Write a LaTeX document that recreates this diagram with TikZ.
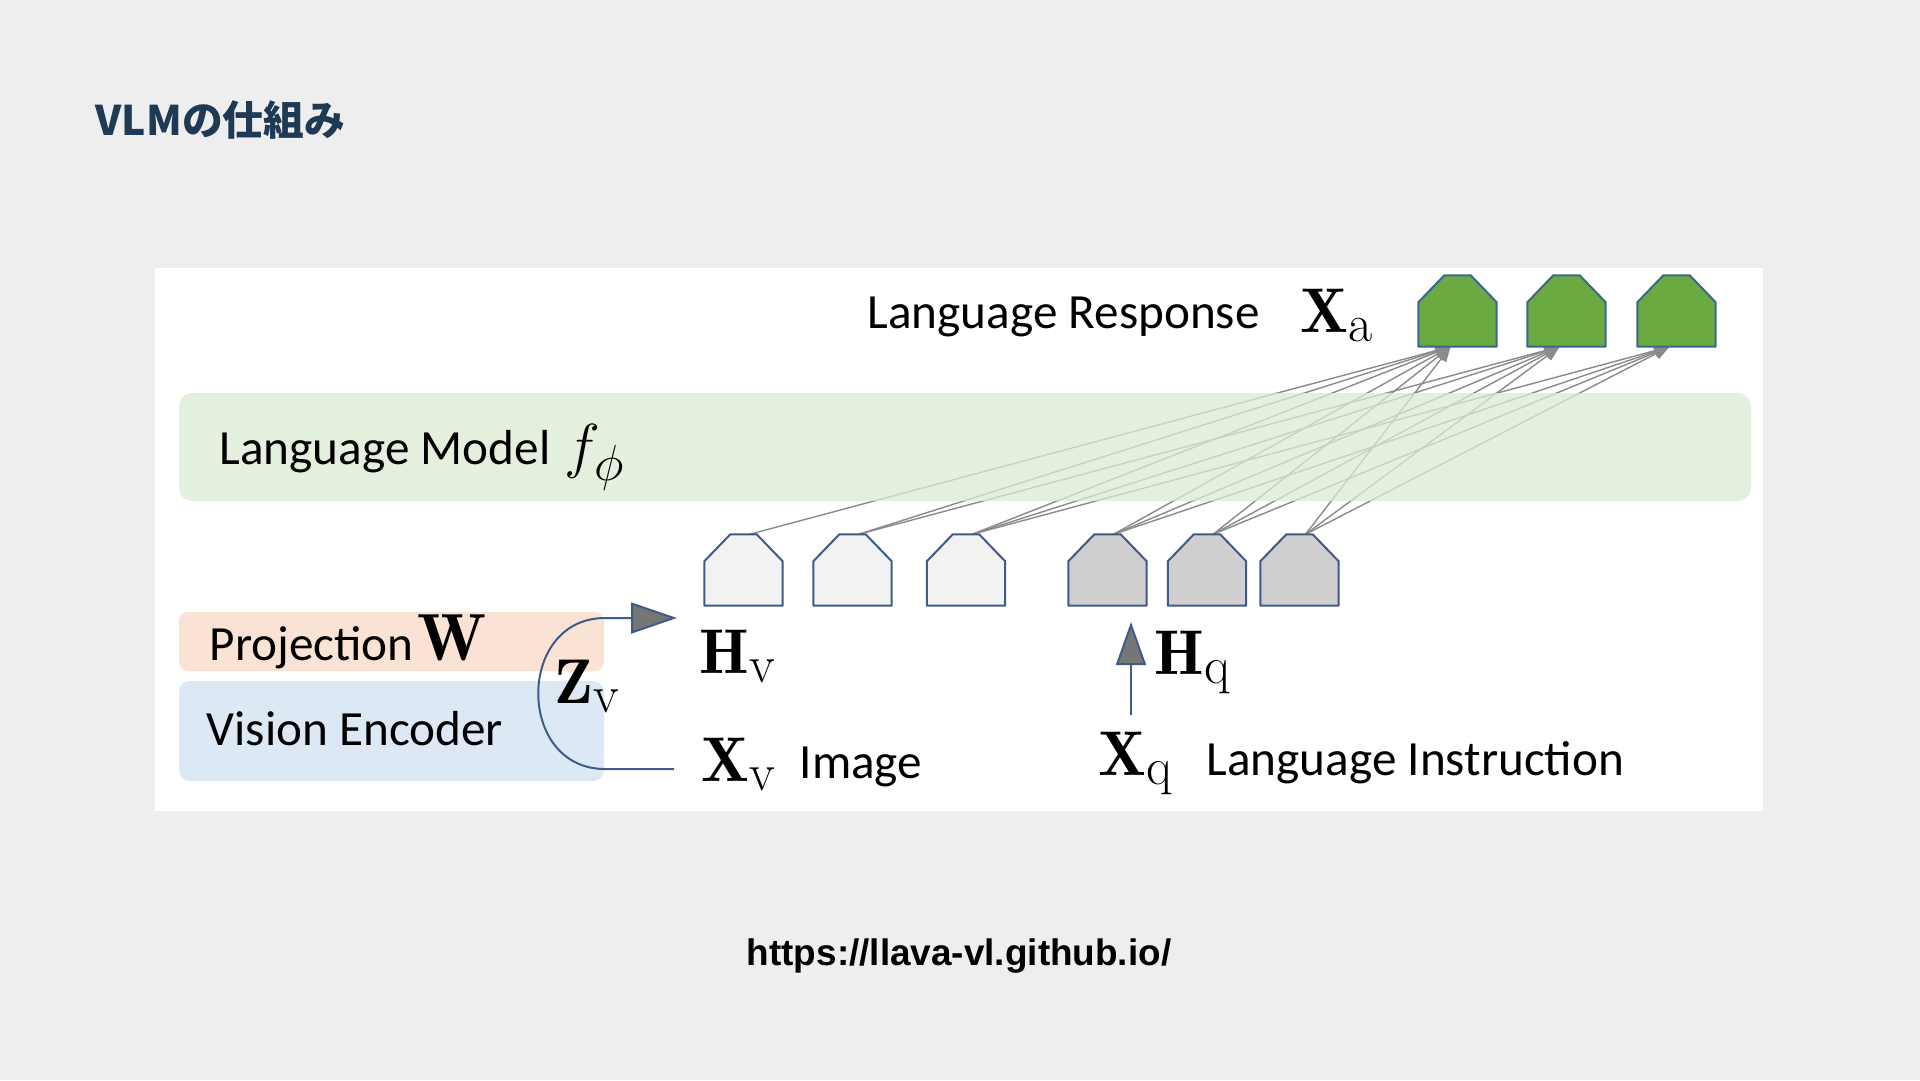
\documentclass[tikz,border=0pt]{standalone}
\usepackage{fontspec}
\usetikzlibrary{arrows.meta,calc}
\newfontfamily\jpfont{Noto Sans CJK JP}
\newfontfamily\lab{Carlito}
\newfontfamily\urlfont{Liberation Sans}
\definecolor{bgc}{HTML}{EEEEEE}
\definecolor{titlec}{HTML}{1E3A55}
\definecolor{lmfill}{HTML}{DCEBD3}
\definecolor{projfill}{HTML}{FAE2D4}
\definecolor{visfill}{HTML}{DDE8F5}
\definecolor{connc}{HTML}{3F5C88}
\definecolor{arrowgray}{HTML}{767676}
\definecolor{fangray}{HTML}{8A8A8A}
\definecolor{tokborder}{HTML}{3F5A85}
\definecolor{lightfill}{HTML}{F2F2F2}
\definecolor{greyfill}{HTML}{D0CECE}
\definecolor{greenfill}{HTML}{6AAA41}
\definecolor{greenborder}{HTML}{3A6690}
\newcommand\housetok[2]{\filldraw[#2] (#1.south west) -- ([yshift=-2.7mm]#1.north west) -- ([xshift=2.6mm]#1.north west) -- ([xshift=-2.6mm]#1.north east) -- ([yshift=-2.7mm]#1.north east) -- (#1.south east) -- cycle;}
\newcommand\sub[1]{\hbox{\fontsize{15}{17}\selectfont #1}}
\tikzset{
  tok/.style={minimum width=7.7mm, minimum height=7mm, inner sep=0pt, draw=none},
  band/.style={draw=none, inner sep=0pt},
  lbl/.style={anchor=base west, inner sep=0pt, font=\lab\fontsize{14}{17}\selectfont},
  mth/.style={anchor=base west, inner sep=0pt, font=\fontsize{18}{22}\selectfont},
  fan/.style={draw=fangray, line width=0.14mm, -{Triangle[length=1.5mm,width=1.2mm]}},
  conn/.style={draw=connc, line width=0.2mm},
  bigtip/.style={-{Triangle[length=4.6mm,width=3.1mm,fill=arrowgray]}},
  lighttok/.style={fill=lightfill, draw=tokborder, line width=0.2mm, line join=round},
  greytok/.style={fill=greyfill, draw=tokborder, line width=0.2mm, line join=round},
  greentok/.style={fill=greenfill, draw=greenborder, line width=0.2mm, line join=round},
}
\begin{document}
\begin{tikzpicture}[x=0.1mm,y=-0.1mm]
\useasboundingbox (0,0) rectangle (1920,1080);
\fill[bgc] (0,0) rectangle (1920,1080);
\fill[white] (155,268) rectangle (1763,811);

% title and url
\node[anchor=base west, inner sep=0pt, text=titlec, font=\jpfont\bfseries\fontsize{11.6}{14}\selectfont] (title) at (95,135) {VLMの仕組み};
\node[anchor=base, inner sep=0pt, font=\urlfont\bfseries\fontsize{10.5}{13}\selectfont] (url) at (959,965) {https://llava-vl.github.io/};

% side bands
\node[band, fill=projfill, rounded corners=0.9mm, minimum width=42.5mm, minimum height=5.9mm] (proj) at (391.5,641.5) {};
\node[band, fill=visfill, rounded corners=1.1mm, minimum width=42.5mm, minimum height=10mm] (venc) at (391.5,731) {};

% tokens
\node[tok] (v1) at (743.5,570) {};
\node[tok] (v2) at (852.5,570) {};
\node[tok] (v3) at (966,570) {};
\node[tok] (q1) at (1107.5,570) {};
\node[tok] (q2) at (1207,570) {};
\node[tok] (q3) at (1299.5,570) {};
\node[tok] (g1) at (1457.5,311) {};
\node[tok] (g2) at (1566.5,311) {};
\node[tok] (g3) at (1676.5,311) {};

% fan connections
\foreach \s/\t in {v1/g1, v2/g1, v2/g2, v3/g1, v3/g2, v3/g3, q1/g1, q1/g2, q1/g3, q2/g1, q2/g2, q2/g3, q3/g1, q3/g2, q3/g3}
  {\draw[fan] ([xshift=0.6mm]\s.north) -- ([xshift=-0.7mm]\t.south);}

% language model band (over the lines)
\node[band, fill=lmfill, fill opacity=0.75, rounded corners=1.3mm, minimum width=157.2mm, minimum height=10.8mm] (lm) at (965,447) {};

% token shapes
\foreach \n in {v1,v2,v3} {\housetok{\n}{lighttok}}
\foreach \n in {q1,q2,q3} {\housetok{\n}{greytok}}
\foreach \n in {g1,g2,g3} {\housetok{\n}{greentok}}

% labels
\node[lbl] (resp) at (867,328) {Language Response};
\node[mth] (xa) at (1300,332) {$\mathbf{X}_{\sub{a}}$};
\node[lbl] (lmtext) at (219,464) {Language Model};
\node[anchor=base west, inner sep=0pt, font=\fontsize{19}{23}\selectfont] (fphi) at (564,466) {$f_{\hbox{\fontsize{15}{17}\selectfont$\phi$}}$};
\node[lbl] (projtext) at (209,660) {Projection\hspace{1pt}{\fontsize{19}{22}\selectfont$\mathbf{W}$}};
\node[lbl] (vistext) at (206,745) {Vision Encoder};
\node[mth] (zv) at (554,703) {$\mathbf{Z}_{\sub{v}}$};
\node[mth] (hv) at (699,673) {$\mathbf{H}_{\sub{v}}$};
\node[mth] (xv) at (701,781) {$\mathbf{X}_{\sub{v}}$};
\node[lbl] (img) at (799,778) {Image};
\node[mth] (hq) at (1154,674) {$\mathbf{H}_{\sub{q}}$};
\node[mth] (xq) at (1098,775) {$\mathbf{X}_{\sub{q}}$};
\node[lbl] (instr) at (1206,775) {Language Instruction};

% connectors
\coordinate (zstart) at (674,769);
\coordinate (ztip) at (677,618);
\draw[conn, bigtip] (zstart) -- (605,769) .. controls (516,769) and (516,618) .. (605,618) -- (ztip);
\coordinate (qstart) at (1131,715);
\coordinate (qtip) at (1131,622);
\draw[conn, -{Triangle[length=4.3mm,width=3.0mm,fill=arrowgray]}] (qstart) -- (qtip);
\end{tikzpicture}
\end{document}
